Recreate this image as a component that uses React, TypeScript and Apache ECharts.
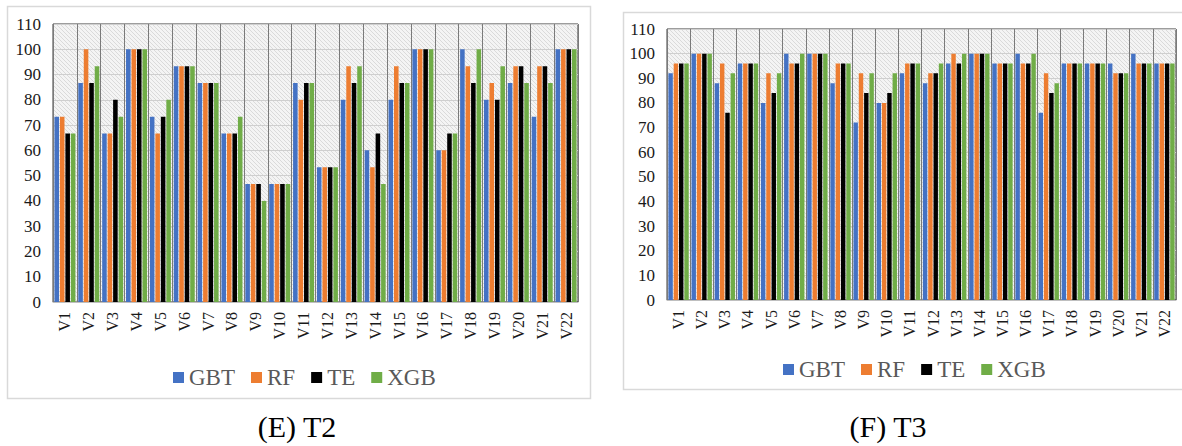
import React, { useEffect, useRef } from "react";
import * as echarts from "echarts";

const categories = ["V1","V2","V3","V4","V5","V6","V7","V8","V9","V10","V11","V12","V13","V14","V15","V16","V17","V18","V19","V20","V21","V22"];
const seriesNames = ["GBT", "RF", "TE", "XGB"];
const seriesColors = ["#4472C4", "#ED7D31", "#000000", "#70AD47"];

// (E) T2
const gbtT2 = [73.3,86.7,66.7,100,73.3,93.3,86.7,66.7,46.7,46.7,86.7,53.3,80,60,80,100,60,100,80,86.7,73.3,100];
const rfT2 = [73.3,100,66.7,100,66.7,93.3,86.7,66.7,46.7,46.7,80,53.3,93.3,53.3,93.3,100,60,93.3,86.7,93.3,93.3,100];
const teT2 = [66.7,86.7,80,100,73.3,93.3,86.7,66.7,46.7,46.7,86.7,53.3,86.7,66.7,86.7,100,66.7,86.7,80,93.3,93.3,100];
const xgbT2 = [66.7,93.3,73.3,100,80,93.3,86.7,73.3,40,46.7,86.7,53.3,93.3,46.7,86.7,100,66.7,100,93.3,86.7,86.7,100];

// (F) T3
const gbtT3 = [92,100,88,96,80,100,100,88,72,80,92,88,96,100,96,100,76,96,96,96,100,96];
const rfT3 = [96,100,96,96,92,96,100,96,92,80,96,92,100,100,96,96,92,96,96,92,96,96];
const teT3 = [96,100,76,96,84,96,100,96,84,84,96,92,96,100,96,96,84,96,96,92,96,96];
const xgbT3 = [96,100,92,96,92,100,100,96,92,92,96,96,100,100,96,100,88,96,96,92,96,96];

const captions = ["(E) T2", "(F) T3"];
const yMin = 0;
const yMax = 110;
const yStep = 10;

const FONT = "Liberation Serif";

function makePattern() {
  const c = document.createElement("canvas");
  c.width = 8;
  c.height = 8;
  const ctx = c.getContext("2d")!;
  ctx.fillStyle = "#f4f4f4";
  ctx.fillRect(0, 0, 8, 8);
  ctx.strokeStyle = "#dadada";
  ctx.lineWidth = 1;
  for (let k = -8; k <= 8; k += 4) {
    ctx.beginPath();
    ctx.moveTo(k, 0);
    ctx.lineTo(k + 8, 8);
    ctx.stroke();
  }
  return c;
}

export default function App() {
  const ref = useRef<HTMLDivElement>(null);
  useEffect(() => {
    if (!ref.current) return;
    const chart = echarts.init(ref.current, undefined, { renderer: "svg" });
    const pat = makePattern();
    const bg: any = { image: pat, repeat: "repeat" };

    const grids = [
      { left: 53, top: 24, width: 525, height: 278 },
      { left: 667, top: 29, width: 509, height: 271 },
    ];
    const dataSets = [
      [gbtT2, rfT2, teT2, xgbT2],
      [gbtT3, rfT3, teT3, xgbT3],
    ];

    const series: any[] = [];
    dataSets.forEach((set, gi) => {
      set.forEach((vals, si) => {
        series.push({
          type: "bar",
          name: seriesNames[si],
          xAxisIndex: gi,
          yAxisIndex: gi,
          data: vals,
          barGap: "20%",
          barCategoryGap: "12%",
          itemStyle: { color: seriesColors[si] },
        });
      });
    });

    const option: any = {
      animation: false,
      backgroundColor: "#ffffff",
      grid: grids.map((g) => ({
        ...g,
        show: true,
        backgroundColor: bg,
        borderColor: "#3a3a3a",
        borderWidth: 1,
        containLabel: false,
      })),
      xAxis: grids.map((_, i) => ({
        type: "category",
        gridIndex: i,
        data: categories,
        axisLine: { show: true, lineStyle: { color: "#bfbfbf" } },
        axisTick: { show: false },
        axisLabel: {
          interval: 0,
          rotate: 90,
          margin: 10,
          fontFamily: FONT,
          fontSize: 16,
          color: "#1a1a1a",
        },
        splitLine: { show: true, interval: 0, lineStyle: { color: "#7a7a7a", width: 1 } },
      })),
      yAxis: grids.map((_, i) => ({
        type: "value",
        gridIndex: i,
        min: yMin,
        max: yMax,
        interval: yStep,
        axisLine: { show: false },
        axisTick: { show: false },
        axisLabel: {
          margin: 12,
          fontFamily: FONT,
          fontSize: 17,
          color: "#1a1a1a",
        },
        splitLine: { show: true, lineStyle: { color: "#cfcfcf", width: 1 } },
      })),
      legend: [
        { left: 168, top: 361 },
        { left: 778, top: 353 },
      ].map((p) => ({
        ...p,
        data: seriesNames,
        icon: "rect",
        itemWidth: 11,
        itemHeight: 11,
        itemGap: 16,
        textStyle: { fontFamily: FONT, fontSize: 23, color: "#595959" },
      })),
      graphic: [
        {
          type: "rect",
          shape: { x: 7.5, y: 6.5, width: 583, height: 392 },
          style: { fill: "none", stroke: "#d9d9d9", lineWidth: 1.5 },
          silent: true,
          z: -10,
        },
        {
          type: "rect",
          shape: { x: 623.5, y: 12.5, width: 570, height: 377 },
          style: { fill: "none", stroke: "#d9d9d9", lineWidth: 1.5 },
          silent: true,
          z: -10,
        },
        {
          type: "text",
          x: 297,
          y: 426,
          style: {
            text: captions[0],
            fontFamily: FONT,
            fontSize: 30,
            fill: "#000000",
            textAlign: "center",
            textVerticalAlign: "middle",
          },
        },
        {
          type: "text",
          x: 888,
          y: 426,
          style: {
            text: captions[1],
            fontFamily: FONT,
            fontSize: 30,
            fill: "#000000",
            textAlign: "center",
            textVerticalAlign: "middle",
          },
        },
      ],
      series,
    };
    chart.setOption(option);
    return () => chart.dispose();
  }, []);

  return (
    <div
      ref={ref}
      style={{ position: "absolute", left: 0, top: 0, width: 1182, height: 446 }}
    />
  );
}
